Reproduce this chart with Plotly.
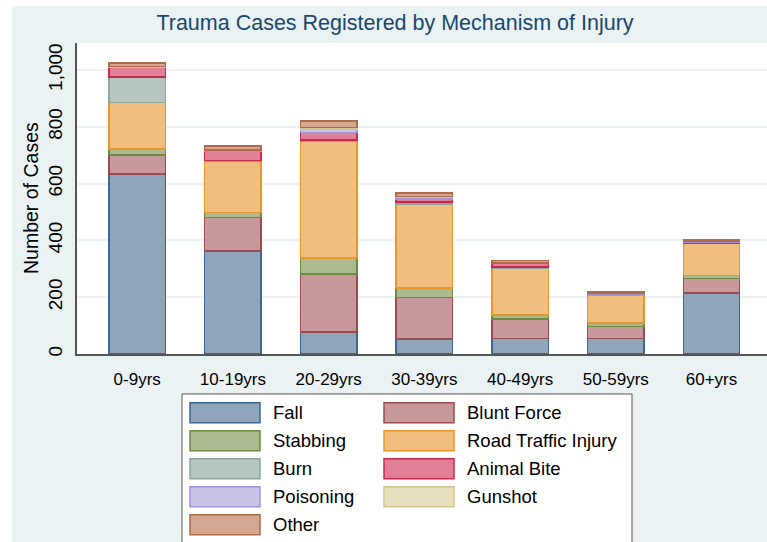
import plotly.graph_objects as go

age_groups = ["0-9yrs", "10-19yrs", "20-29yrs", "30-39yrs", "40-49yrs", "50-59yrs", "60+yrs"]

fall = [633, 363, 78, 53, 55, 54, 214]
blunt_force = [68, 118, 203, 146, 69, 43, 51]
stabbing = [20, 18, 57, 33, 14, 12, 12]
road_traffic = [164, 179, 412, 296, 165, 98, 113]
burn = [91, 3, 3, 7, 3, 2, 1]
animal_bite = [32, 33, 27, 10, 13, 3, 4]
poisoning = [3, 3, 12, 8, 2, 1, 3]
gunshot = [1, 1, 5, 2, 0, 0, 0]
other = [13, 14, 23, 12, 8, 6, 5]

series_names = ["Fall", "Blunt Force", "Stabbing", "Road Traffic Injury", "Burn",
                "Animal Bite", "Poisoning", "Gunshot", "Other"]
series_values = [fall, blunt_force, stabbing, road_traffic, burn,
                 animal_bite, poisoning, gunshot, other]
fills = ["#8fa5b9", "#c7999b", "#a9bb8f", "#f0bf7f", "#b5c6c0",
         "#e07f95", "#c9c3e8", "#e6e0bc", "#d3a893"]
lines = ["#3f6590", "#9b4a52", "#6c8b3f", "#e8962a", "#8aa69d",
         "#c8294f", "#a093da", "#cfc78a", "#b06a48"]

y_ticks = [0, 200, 400, 600, 800, 1000]
y_tick_labels = ["0", "200", "400", "600", "800", "1,000"]

W, H = 767, 542
L, R, T, B = 77, 0, 43, 188
PW = W - L - R
PH = H - T - B

def px_x(px):
    return (px - L) / PW

def px_y(py):
    return (H - B - py) / PH

fig = go.Figure()
for name, vals, fc, lc in zip(series_names, series_values, fills, lines):
    fig.add_trace(go.Bar(
        x=list(range(len(age_groups))), y=vals, name=name,
        marker=dict(color=fc, line=dict(color=lc, width=1.5)),
        width=0.59, showlegend=False,
    ))

shapes = []
annotations = []
# white strips on left and top of the image
shapes.append(dict(type="rect", xref="paper", yref="paper",
                   x0=px_x(0), x1=px_x(12), y0=px_y(H), y1=px_y(0),
                   fillcolor="white", line=dict(width=0), layer="below"))
shapes.append(dict(type="rect", xref="paper", yref="paper",
                   x0=px_x(0), x1=px_x(W), y0=px_y(6), y1=px_y(0),
                   fillcolor="white", line=dict(width=0), layer="below"))

# legend box
shapes.append(dict(type="rect", xref="paper", yref="paper",
                   x0=px_x(182), x1=px_x(632), y0=px_y(560), y1=px_y(394),
                   fillcolor="white", line=dict(color="#555555", width=1)))
col_sym_x = [190, 384]
col_txt_x = [271, 465]
row_y = [402.7, 430.7, 458.7, 486.7, 514.7]
for i, (name, fc, lc) in enumerate(zip(series_names, fills, lines)):
    r, c = divmod(i, 2)
    y0 = row_y[r]
    shapes.append(dict(type="rect", xref="paper", yref="paper",
                       x0=px_x(col_sym_x[c]), x1=px_x(col_sym_x[c] + 70),
                       y0=px_y(y0 + 20), y1=px_y(y0),
                       fillcolor=fc, line=dict(color=lc, width=1.5)))
    annotations.append(dict(xref="paper", yref="paper", x=px_x(col_txt_x[c]),
                            y=px_y(y0 + 10), text=name, showarrow=False,
                            xanchor="left", yanchor="middle",
                            font=dict(size=18.5, color="black", family="Liberation Sans")))

annotations.append(dict(xref="paper", yref="paper", x=px_x(31), y=px_y(198),
                        text="Number of Cases", textangle=-90, showarrow=False,
                        xanchor="center", yanchor="middle",
                        font=dict(size=19.5, color="black", family="Liberation Sans")))

fig.update_layout(
    width=W, height=H,
    margin=dict(l=L, r=R, t=T, b=B, pad=0),
    paper_bgcolor="#eaf2f3",
    plot_bgcolor="white",
    barmode="stack",
    bargap=0.41,
    title=dict(text="Trauma Cases Registered by Mechanism of Injury",
               x=395 / W, xref="container", xanchor="center",
               y=1 - 22 / H, yref="container", yanchor="middle",
               font=dict(size=21.5, color="#1a476f", family="Liberation Sans")),
    shapes=shapes,
    annotations=annotations,
    xaxis=dict(
        range=[-0.629, 6.58], tickmode="array",
        tickvals=list(range(len(age_groups))), ticktext=age_groups,
        showgrid=False, zeroline=False,
        showline=True, linecolor="#555555", linewidth=1.5,
        ticks="outside", ticklen=9, tickcolor="rgba(0,0,0,0)",
        tickfont=dict(size=17, color="black", family="Liberation Sans"),
    ),
    yaxis=dict(
        range=[0, 1095], tickmode="array", tickvals=y_ticks, ticktext=y_tick_labels,
        tickangle=-90, showgrid=True, gridcolor="#eaf2f3", gridwidth=1.5,
        zeroline=False, showline=True, linecolor="#555555", linewidth=1.5,
        ticks="outside", ticklen=6, tickcolor="rgba(0,0,0,0)",
        tickfont=dict(size=19, color="black", family="Liberation Sans"),
    ),
)

fig.write_html("out.html", config={"displayModeBar": False},
               post_script="document.body.style.margin='0';document.body.style.overflow='hidden';")
